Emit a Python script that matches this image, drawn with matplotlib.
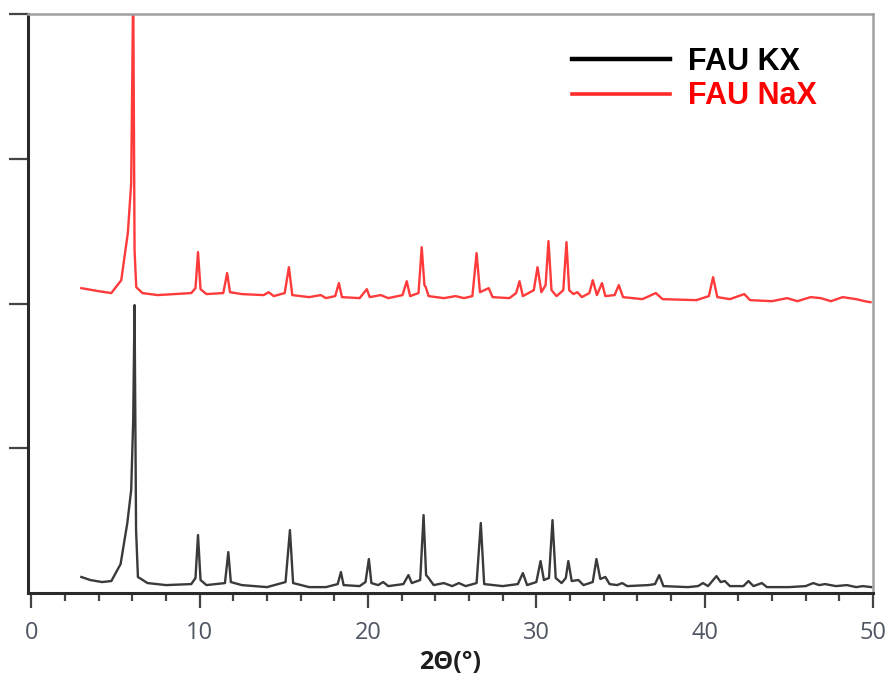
"""
XRD patterns of FAU KX and FAU NaX zeolites (stacked, NaX offset upward).
"""

import matplotlib

matplotlib.use("Agg")
import matplotlib.pyplot as plt
from matplotlib.lines import Line2D
from matplotlib.ticker import MultipleLocator

# ──────────────────────────────────────────────
# 1.  DATA
# ──────────────────────────────────────────────
KX_2THETA = [
    2.97, 3.5, 4.2, 4.75, 5.3, 5.7, 5.93, 6.05, 6.13, 6.22, 6.33, 6.9, 8.0,
    9.5, 9.75, 9.9, 10.05, 10.4, 11.5, 11.7, 11.85, 12.5, 14.0, 15.1, 15.36,
    15.55, 16.5, 17.5, 18.2, 18.39, 18.55, 19.5, 19.85, 20.05, 20.2, 20.6,
    20.9, 21.2, 22.1, 22.4, 22.6, 23.1, 23.3, 23.45, 23.6, 23.9, 24.5, 25.0,
    25.4, 25.8, 26.45, 26.7, 26.9, 28.0, 28.9, 29.2, 29.45, 30.0, 30.25,
    30.45, 30.75, 30.96, 31.15, 31.5, 31.75, 31.9, 32.1, 32.5, 32.8, 33.35,
    33.57, 33.8, 34.1, 34.35, 34.8, 35.1, 35.4, 36.65, 37.05, 37.3, 37.55,
    39.0, 39.6, 39.9, 40.2, 40.7, 40.95, 41.2, 41.5, 42.3, 42.6, 42.9, 43.4,
    43.7, 45.0, 46.0, 46.45, 46.8, 47.15, 47.8, 48.45, 49.0, 49.4, 49.9,
]
KX_INT = [
    0.111, 0.090, 0.076, 0.083, 0.200, 0.484, 0.712, 1.195, 1.990, 0.435,
    0.111, 0.069, 0.055, 0.062, 0.104, 0.401, 0.090, 0.055, 0.069, 0.283,
    0.076, 0.055, 0.041, 0.076, 0.435, 0.069, 0.041, 0.041, 0.062, 0.145,
    0.055, 0.048, 0.076, 0.235, 0.069, 0.055, 0.076, 0.048, 0.062, 0.124,
    0.069, 0.090, 0.539, 0.124, 0.104, 0.055, 0.069, 0.048, 0.069, 0.048,
    0.069, 0.484, 0.062, 0.048, 0.062, 0.138, 0.055, 0.076, 0.221, 0.090,
    0.104, 0.504, 0.104, 0.069, 0.104, 0.221, 0.083, 0.090, 0.055, 0.076,
    0.235, 0.097, 0.111, 0.062, 0.055, 0.069, 0.048, 0.055, 0.062, 0.124,
    0.048, 0.041, 0.048, 0.069, 0.048, 0.117, 0.076, 0.083, 0.048, 0.048,
    0.083, 0.048, 0.069, 0.041, 0.041, 0.048, 0.069, 0.055, 0.062, 0.048,
    0.055, 0.041, 0.048, 0.041,
]

NAX_2THETA = [
    2.97, 4.0, 4.75, 5.34, 5.73, 5.93, 6.05, 6.13, 6.23, 6.6, 7.5, 9.5,
    9.75, 9.9, 10.05, 10.4, 11.4, 11.63, 11.8, 12.5, 13.8, 14.1, 14.4,
    15.05, 15.3, 15.5, 16.5, 17.2, 17.5, 18.05, 18.27, 18.45, 19.5, 19.93,
    20.1, 20.76, 21.2, 22.05, 22.3, 22.5, 23.0, 23.19, 23.35, 23.43, 23.6,
    24.5, 25.2, 25.7, 26.2, 26.45, 26.65, 27.17, 27.4, 28.4, 28.8, 29.0,
    29.2, 29.85, 30.07, 30.3, 30.55, 30.72, 30.9, 31.2, 31.6, 31.79, 31.95,
    32.2, 32.44, 32.7, 33.15, 33.35, 33.6, 33.9, 34.1, 34.65, 34.9, 35.15,
    36.3, 37.1, 37.5, 39.5, 40.25, 40.5, 40.75, 41.5, 42.35, 42.7, 44.0,
    44.9, 45.5, 46.3, 46.9, 47.5, 48.2, 49.0, 49.5, 49.85,
]
NAX_INT = [
    0.107, 0.086, 0.073, 0.162, 0.487, 0.832, 2.200, 0.370, 0.114, 0.073,
    0.059, 0.073, 0.107, 0.356, 0.100, 0.066, 0.073, 0.211, 0.079, 0.066,
    0.059, 0.079, 0.052, 0.073, 0.252, 0.059, 0.045, 0.059, 0.038, 0.052,
    0.142, 0.045, 0.038, 0.100, 0.045, 0.059, 0.038, 0.059, 0.155, 0.052,
    0.073, 0.390, 0.128, 0.114, 0.052, 0.038, 0.052, 0.038, 0.052, 0.349,
    0.079, 0.107, 0.045, 0.038, 0.073, 0.155, 0.052, 0.093, 0.252, 0.079,
    0.128, 0.432, 0.093, 0.052, 0.093, 0.425, 0.093, 0.066, 0.079, 0.045,
    0.073, 0.162, 0.059, 0.142, 0.052, 0.059, 0.128, 0.045, 0.031, 0.073,
    0.031, 0.024, 0.052, 0.183, 0.045, 0.031, 0.066, 0.024, 0.017, 0.038,
    0.017, 0.045, 0.038, 0.017, 0.045, 0.031, 0.017, 0.010,
]
NAX_OFFSET = 2.0

SERIES_LABELS = ["FAU KX", "FAU NaX"]
XTICKS = [0, 10, 20, 30, 40, 50]
XLABEL = "2Θ(°)"

# ──────────────────────────────────────────────
# 2.  STYLE
# ──────────────────────────────────────────────
KX_COLOR = "#3a3a3a"
NAX_COLOR = "#ff3a3a"
TICK_COLOR = "#4f5563"


def main():
    fig = plt.figure(figsize=(8.89, 6.77), dpi=100)
    ax = fig.add_axes([0.0315, 0.124, 0.9505, 0.855])

    nax_shifted = [v + NAX_OFFSET for v in NAX_INT]
    ax.plot(KX_2THETA, KX_INT, color=KX_COLOR, lw=1.7, solid_joinstyle="round")
    ax.plot(NAX_2THETA, nax_shifted, color=NAX_COLOR, lw=1.7, solid_joinstyle="round")

    ax.set_xlim(-0.2, 50)
    ax.set_ylim(0, 4)
    ax.set_xticks(XTICKS)
    ax.xaxis.set_minor_locator(MultipleLocator(2))
    ax.set_yticks([1, 2, 3, 4])
    ax.set_yticklabels([])

    # --- spines ---
    for side in ("left", "bottom"):
        ax.spines[side].set_color("#2a2a2a")
        ax.spines[side].set_linewidth(2.2)
    for side in ("top", "right"):
        ax.spines[side].set_color("#a0a0a0")
        ax.spines[side].set_linewidth(1.8)

    ax.tick_params(axis="x", which="major", length=11, width=1.6, color="#444444",
                   labelsize=17, labelcolor=TICK_COLOR, pad=9)
    ax.tick_params(axis="x", which="minor", length=6, width=1.6, color="#444444")
    ax.tick_params(axis="y", which="major", length=14, width=1.6, color="#444444")
    for lbl in ax.get_xticklabels():
        lbl.set_fontfamily("Open Sans")

    ax.set_xlabel(XLABEL, fontsize=18, fontweight="bold", color="#1e1e1e",
                  family="Open Sans", labelpad=4)

    # --- legend ---
    handles = [
        Line2D([], [], color="black", lw=3.2),
        Line2D([], [], color="#ff2a2a", lw=2.6),
    ]
    leg = ax.legend(
        handles, SERIES_LABELS,
        loc="upper left", bbox_to_anchor=(0.626, 0.97),
        frameon=False, borderpad=0, handlelength=3.2, handletextpad=0.6,
        labelspacing=0.15,
        prop={"family": "Liberation Sans", "weight": "bold", "size": 22},
    )
    for txt, col in zip(leg.get_texts(), ["black", "red"]):
        txt.set_color(col)

    fig.savefig("out.png", dpi=100)
    plt.close(fig)


if __name__ == "__main__":
    main()
